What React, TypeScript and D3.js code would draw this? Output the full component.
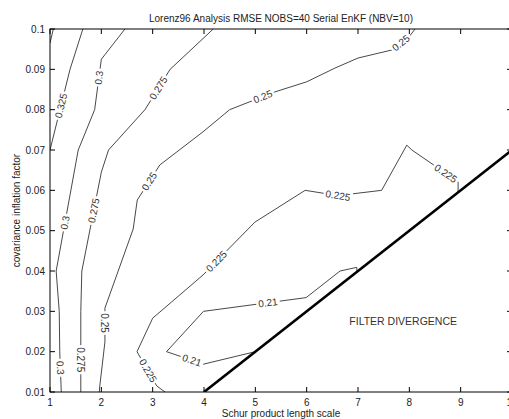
import React from "react";
import * as d3 from "d3";

// Figure geometry
const W = 509;
const H = 419;
const PLOT = { left: 50, right: 512, top: 29, bottom: 392 };
const FONT = "'Liberation Sans', Arial, Helvetica, sans-serif";

// Axes
const xTicks = [1, 2, 3, 4, 5, 6, 7, 8, 9, 10];
const yTicks = [0.01, 0.02, 0.03, 0.04, 0.05, 0.06, 0.07, 0.08, 0.09, 0.1];
const yTickLabels = ["0.01", "0.02", "0.03", "0.04", "0.05", "0.06", "0.07", "0.08", "0.09", "0.1"];

const title = "Lorenz96 Analysis RMSE NOBS=40 Serial EnKF (NBV=10)";
const xLabel = "Schur product length scale";
const yLabel = "covariance inflation factor";

type Pt = [number, number];

// RMSE contours: [length scale, inflation factor] vertices
const path035: Pt[] = [[1.0, 0.0965], [1.065, 0.1]];
const labels035: Pt[] = [];

const path0325: Pt[] = [[1.64, 0.1], [1.39, 0.09], [1.0, 0.07]];
const labels0325: Pt[] = [[1.214, 0.081]];

const path03: Pt[] = [
  [2.46, 0.1], [2.0, 0.0925], [1.87, 0.08], [1.55, 0.07], [1.12, 0.04],
  [1.18, 0.03], [1.19, 0.02], [1.22, 0.01],
];
const labels03: Pt[] = [[1.93, 0.088], [1.29, 0.052], [1.19, 0.016]];

const path0275: Pt[] = [
  [4.18, 0.1], [3.34, 0.09], [2.85, 0.08], [2.14, 0.07], [2.0, 0.0645],
  [1.62, 0.04], [1.6, 0.03], [1.6, 0.01],
];
const labels0275: Pt[] = [[3.08, 0.0856], [1.81, 0.0551], [1.6, 0.018]];

const path025: Pt[] = [
  [8.11, 0.1], [8.01, 0.0983], [7.66, 0.0948], [7.0, 0.0928], [6.55, 0.0903],
  [6.0, 0.0869], [5.38, 0.0844], [4.5, 0.08], [3.98, 0.0745], [3.14, 0.0663],
  [2.7, 0.0576], [2.62, 0.0504], [2.07, 0.0308], [2.07, 0.0224], [1.97, 0.0115],
  [1.96, 0.01],
];
const labels025: Pt[] = [[7.84, 0.0965], [5.15, 0.0831], [2.89, 0.0626], [2.06, 0.0271]];

const path0225: Pt[] = [
  [3.24, 0.01], [3.08, 0.0115], [2.695, 0.02], [3.0, 0.0283], [3.98, 0.039],
  [4.99, 0.0521], [5.97, 0.06], [6.61, 0.0587], [7.46, 0.06], [7.95, 0.0712],
  [8.05, 0.07], [8.95, 0.0621], [8.95, 0.0595],
];
const labels0225: Pt[] = [[2.87, 0.015], [4.25, 0.0423], [6.61, 0.0587], [8.77, 0.0653]];

const path021: Pt[] = [
  [5.0, 0.02], [3.99, 0.0169], [3.27, 0.02], [3.99, 0.03], [5.99, 0.0334],
  [6.65, 0.04], [6.975, 0.0409], [6.98, 0.0398],
];
const labels021: Pt[] = [[3.76, 0.0177], [5.25, 0.0318]];

// Stability boundary of the filter
const boundary: Pt[] = [[4, 0.01], [10, 0.07]];
const divergenceText = "FILTER DIVERGENCE";
const divergenceAt: Pt = [7.88, 0.0275];

const contours = [
  { level: 0.35, path: path035, labels: labels035 },
  { level: 0.325, path: path0325, labels: labels0325 },
  { level: 0.3, path: path03, labels: labels03 },
  { level: 0.275, path: path0275, labels: labels0275 },
  { level: 0.25, path: path025, labels: labels025 },
  { level: 0.225, path: path0225, labels: labels0225 },
  { level: 0.21, path: path021, labels: labels021 },
];

const x = d3.scaleLinear().domain([1, 10]).range([PLOT.left, PLOT.right]);
const y = d3.scaleLinear().domain([0.01, 0.1]).range([PLOT.bottom, PLOT.top]);

const line = d3
  .line<Pt>()
  .x((d) => x(d[0]))
  .y((d) => y(d[1]));

// Snap a label onto its contour and orient it along the local segment
function placeLabel(path: Pt[], p: Pt) {
  const px = x(p[0]);
  const py = y(p[1]);
  let best = { d: Infinity, x: px, y: py, a: 0 };
  for (let i = 0; i < path.length - 1; i++) {
    const ax = x(path[i][0]);
    const ay = y(path[i][1]);
    const bx = x(path[i + 1][0]);
    const by = y(path[i + 1][1]);
    const dx = bx - ax;
    const dy = by - ay;
    const len2 = dx * dx + dy * dy || 1;
    let t = ((px - ax) * dx + (py - ay) * dy) / len2;
    t = Math.max(0, Math.min(1, t));
    const qx = ax + t * dx;
    const qy = ay + t * dy;
    const d = (qx - px) ** 2 + (qy - py) ** 2;
    if (d < best.d) {
      let a = (Math.atan2(dy, dx) * 180) / Math.PI;
      if (a > 90) a -= 180;
      if (a <= -90) a += 180;
      best = { d, x: qx, y: qy, a };
    }
  }
  return best;
}

function textWidth(s: string) {
  let w = 0;
  for (const c of s) w += c === "." ? 2.8 : 5.6;
  return w;
}

export default function App() {
  return (
    <div style={{ position: "absolute", left: 0, top: 0 }}>
      <svg width={W} height={H} style={{ display: "block", background: "#fff" }} fontFamily={FONT}>
        <defs>
          <clipPath id="plotClip">
            <rect x={PLOT.left} y={PLOT.top} width={PLOT.right - PLOT.left} height={PLOT.bottom - PLOT.top} />
          </clipPath>
        </defs>
        <rect x={0} y={0} width={W} height={H} fill="#fff" />

        {/* contour lines */}
        <g clipPath="url(#plotClip)" fill="none" stroke="#333" strokeWidth={0.9}>
          {contours.map((c) => (
            <path key={c.level} d={line(c.path) || ""} />
          ))}
        </g>

        {/* boundary of divergence */}
        <path d={line(boundary) || ""} fill="none" stroke="#000" strokeWidth={2.6} clipPath="url(#plotClip)" />

        {/* inline contour labels */}
        <g>
          {contours.flatMap((c) =>
            c.labels.map((p, i) => {
              const s = String(c.level);
              const pl = placeLabel(c.path, p);
              const w = textWidth(s) + 4;
              return (
                <g key={`${c.level}-${i}`} transform={`translate(${pl.x},${pl.y}) rotate(${pl.a})`}>
                  <rect x={-w / 2} y={-5} width={w} height={10} fill="#fff" />
                  <text
                    textAnchor="middle"
                    dominantBaseline="central"
                    fontSize={10}
                    fill="#333"
                  >
                    {s}
                  </text>
                </g>
              );
            })
          )}
        </g>

        <text x={x(divergenceAt[0])} y={y(divergenceAt[1])} textAnchor="middle" dominantBaseline="central" fontSize={10.5} fill="#333">
          {divergenceText}
        </text>

        {/* axes box */}
        <rect
          x={PLOT.left}
          y={PLOT.top}
          width={PLOT.right - PLOT.left}
          height={PLOT.bottom - PLOT.top}
          fill="none"
          stroke="#000"
          strokeWidth={1}
        />

        {/* ticks, inward on all sides */}
        <g stroke="#000" strokeWidth={1}>
          {xTicks.map((t) => (
            <g key={`xt${t}`}>
              <line x1={x(t)} x2={x(t)} y1={PLOT.bottom} y2={PLOT.bottom - 5} />
              <line x1={x(t)} x2={x(t)} y1={PLOT.top} y2={PLOT.top + 5} />
            </g>
          ))}
          {yTicks.map((t) => (
            <g key={`yt${t}`}>
              <line x1={PLOT.left} x2={PLOT.left + 5} y1={y(t)} y2={y(t)} />
              <line x1={PLOT.right} x2={PLOT.right - 5} y1={y(t)} y2={y(t)} />
            </g>
          ))}
        </g>

        <g fontSize={10} fill="#222">
          {xTicks.map((t) => (
            <text key={`xl${t}`} x={x(t)} y={PLOT.bottom + 14} textAnchor="middle">
              {t}
            </text>
          ))}
          {yTicks.map((t, i) => (
            <text key={`yl${t}`} x={PLOT.left - 5} y={y(t)} textAnchor="end" dominantBaseline="central">
              {yTickLabels[i]}
            </text>
          ))}
        </g>

        <text x={281} y={18} textAnchor="middle" dominantBaseline="central" fontSize={10} fill="#222">
          {title}
        </text>
        <text x={281} y={413} textAnchor="middle" dominantBaseline="central" fontSize={10} fill="#222">
          {xLabel}
        </text>
        <text
          transform={`translate(16,${(PLOT.top + PLOT.bottom) / 2}) rotate(-90)`}
          textAnchor="middle"
          dominantBaseline="central"
          fontSize={10}
          fill="#222"
        >
          {yLabel}
        </text>
      </svg>
    </div>
  );
}
